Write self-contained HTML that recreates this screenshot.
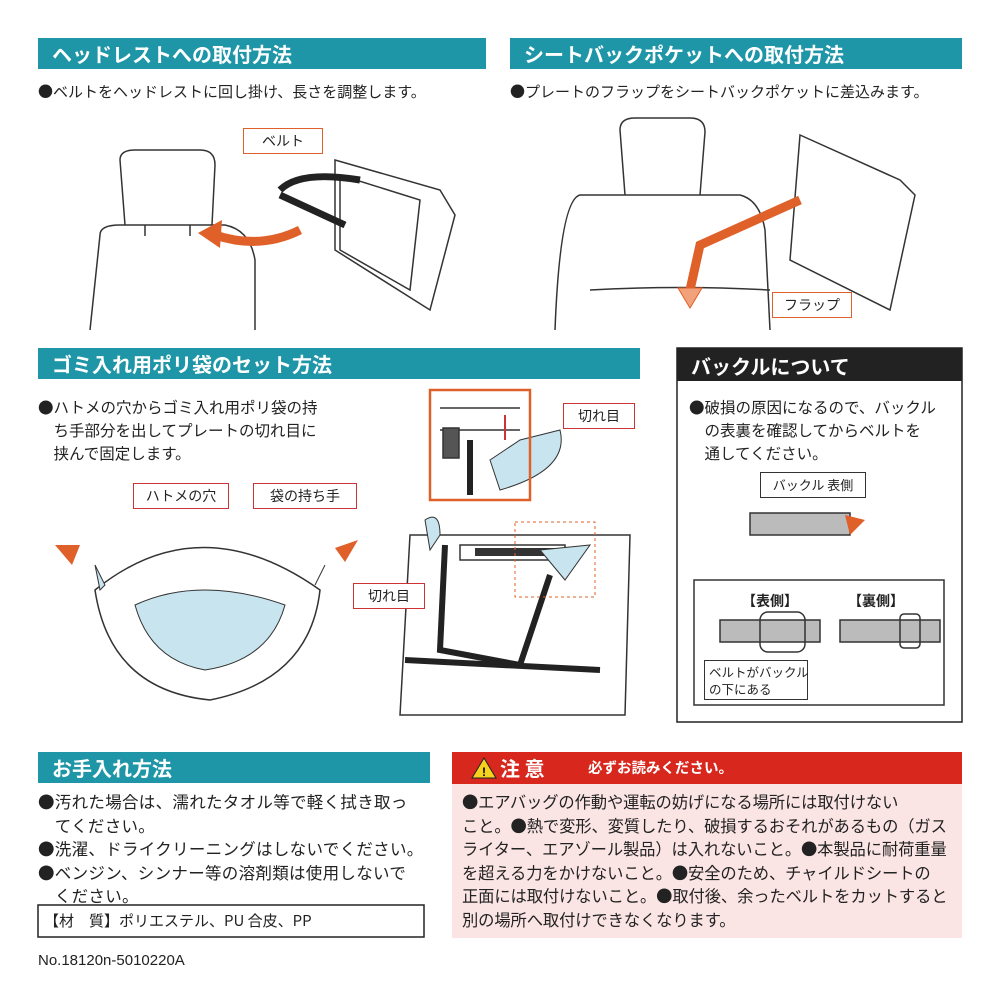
<!DOCTYPE html>
<html><head><meta charset="utf-8"><style>
*{margin:0;padding:0;box-sizing:border-box}
body{width:1000px;height:1000px;background:#fff;position:relative;font-family:"Noto Sans CJK JP","Liberation Sans",sans-serif;color:#222;overflow:hidden}
.h{position:absolute;background:#1e96a8;color:#fff;font-weight:bold;font-size:20px;line-height:31px;padding-left:14px;white-space:nowrap}
.t{position:absolute;font-size:15px;line-height:22px;white-space:nowrap}
.lbl{position:absolute;border:1.5px solid #e0602a;background:#fff;font-size:14px;line-height:24px;text-align:center}
.lblr{position:absolute;border:1.5px solid #c33;background:#fff;font-size:14px;line-height:24px;text-align:center}
svg{position:absolute;left:0;top:0}
</style></head><body>
<div class="h" style="left:38px;top:38px;width:448px">ヘッドレストへの取付方法</div>
<div class="h" style="left:510px;top:38px;width:452px">シートバックポケットへの取付方法</div>
<div class="t" style="left:38px;top:81px">●ベルトをヘッドレストに回し掛け、長さを調整します。</div>
<div class="t" style="left:510px;top:81px">●プレートのフラップをシートバックポケットに差込みます。</div>

<svg width="1000" height="1000">
<g fill="none" stroke="#333" stroke-width="1.5">
<path d="M125 225 L120 160 Q120 150 135 150 L200 150 Q215 150 215 165 L212 225"/>
<path d="M145 225 L145 236 M190 225 L190 236"/>
<path d="M90 330 L100 235 Q100 225 120 225 L225 225 Q250 230 255 260 L255 330"/>
<path d="M335 160 L440 190 L455 215 L430 310 L335 250 Z"/>
<path d="M340 175 L420 200 L410 290 L340 250 Z"/>
<path d="M625 195 L620 130 Q620 118 635 118 L690 118 Q705 118 705 132 L700 195"/>
<path d="M555 330 Q560 200 580 195 L740 195 Q760 200 765 230 L770 330"/>
<path d="M590 290 Q680 285 770 290"/>
<path d="M800 135 L900 180 L915 195 L890 310 L790 260 L800 135 Z"/>
<path d="M410 535 L630 535 L625 715 L400 715 Z"/>
<path d="M460 545 L565 545 L565 560 L460 560 Z"/>
<path d="M95 590 Q200 505 320 590 Q310 680 210 700 Q110 690 95 590 Z"/>
<rect x="694" y="580" width="250" height="125"/>
<rect x="720" y="620" width="100" height="22" fill="#bbb"/>
<rect x="840" y="620" width="100" height="22" fill="#bbb"/>
<rect x="760" y="612" width="45" height="40" rx="8"/>
<rect x="750" y="513" width="100" height="22" fill="#bbb"/>
<rect x="900" y="614" width="20" height="34" rx="4"/>
<path d="M440 408 L520 408 M440 430 L520 430"/>
<rect x="443" y="428" width="16" height="30" fill="#555"/>
</g>
<path d="M280 190 Q300 170 360 180 M280 195 L345 225" stroke="#222" stroke-width="7" fill="none"/>
<path d="M445 545 L440 650 L520 665 L550 575" stroke="#222" stroke-width="6" fill="none"/>
<path d="M405 660 L600 670" stroke="#222" stroke-width="6"/>
<path d="M470 440 L470 495" stroke="#222" stroke-width="6"/>
<rect x="475" y="548" width="80" height="8" fill="#333"/>
<path d="M300 230 Q260 250 215 235" stroke="#e0602a" stroke-width="9" fill="none"/>
<polygon points="198,233 222,220 220,248" fill="#e0602a"/>
<path d="M800 200 L700 245 L690 290" stroke="#e0602a" stroke-width="9" fill="none"/>
<polygon points="678,288 702,288 690,308" fill="#f2a27a" stroke="#e0602a"/>
<polygon points="55,545 80,545 72,565" fill="#e0602a"/>
<polygon points="358,540 335,548 345,562" fill="#e0602a"/>
<polygon points="865,520 845,515 850,535" fill="#e0602a"/>
<path d="M135 605 Q200 575 285 605 Q270 660 205 670 Q150 660 135 605 Z" fill="#c8e4ee" stroke="#333"/>
<path d="M490 460 L520 440 L560 430 Q570 470 500 490 Z" fill="#c8e4ee" stroke="#333"/>
<path d="M540 550 L590 545 L565 580 Z" fill="#c8e4ee" stroke="#333"/>
<path d="M95 565 L105 585 L100 590 Z M325 565 L315 585 Z" fill="#c8e4ee" stroke="#333"/>
<path d="M425 520 Q440 510 440 535 L430 550 Z" fill="#c8e4ee" stroke="#333"/>
<rect x="515" y="522" width="80" height="75" fill="none" stroke="#e0602a" stroke-dasharray="3,3"/>
<path d="M430 390 L530 390 L530 500 L430 500 Z" fill="none" stroke="#e0602a" stroke-width="2.5"/>
<path d="M505 415 L505 440" stroke="#c33" stroke-width="2"/>
<rect x="452" y="752" width="510" height="32" fill="#d8271d"/>
<rect x="452" y="784" width="510" height="154" fill="#fbe4e4"/>
<rect x="677" y="348" width="285" height="374" fill="none" stroke="#222" stroke-width="1.5"/>
<rect x="677" y="348" width="285" height="33" fill="#222"/>
<rect x="38" y="905" width="386" height="32" fill="none" stroke="#222" stroke-width="1.5"/>
<polygon points="472,778 484,758 496,778" fill="#f6d21f" stroke="#222"/>
<text x="484" y="776" font-size="12" font-weight="bold" text-anchor="middle" font-family="Liberation Sans">!</text>
</svg>

<div class="lbl" style="left:243px;top:128px;width:80px">ベルト</div>
<div class="lbl" style="left:772px;top:292px;width:80px">フラップ</div>
<div class="lblr" style="left:563px;top:403px;width:72px">切れ目</div>
<div class="lblr" style="left:353px;top:583px;width:72px">切れ目</div>
<div class="lblr" style="left:133px;top:483px;width:96px">ハトメの穴</div>
<div class="lblr" style="left:253px;top:483px;width:104px">袋の持ち手</div>
<div class="lbl" style="left:760px;top:472px;width:106px;border-color:#333;font-size:13px">バックル 表側</div>
<div class="t" style="left:742px;top:590px;font-weight:bold;font-size:14px">【表側】</div>
<div class="t" style="left:848px;top:590px;font-weight:bold;font-size:14px">【裏側】</div>
<div class="t" style="left:704px;top:660px;width:104px;border:1px solid #333;font-size:12.5px;line-height:17px;padding:2px 4px;background:#fff">ベルトがバックル<br>の下にある</div>

<div class="h" style="left:38px;top:348px;width:602px">ゴミ入れ用ポリ袋のセット方法</div>
<div class="t" style="left:38px;top:396px;font-size:15.5px;line-height:23px">●ハトメの穴からゴミ入れ用ポリ袋の持<br>　ち手部分を出してプレートの切れ目に<br>　挟んで固定します。</div>
<div class="t" style="left:691px;top:350px;color:#fff;font-size:20px;font-weight:bold;line-height:31px">バックルについて</div>
<div class="t" style="left:689px;top:396px;font-size:15.5px;line-height:23px">●破損の原因になるので、バックル<br>　の表裏を確認してからベルトを<br>　通してください。</div>

<div class="h" style="left:38px;top:752px;width:392px">お手入れ方法</div>
<div class="t" style="left:500px;top:753px;color:#fff;font-weight:bold;font-size:20px;line-height:30px">注 意</div>
<div class="t" style="left:588px;top:757px;color:#fff;font-weight:bold;font-size:14.5px">必ずお読みください。</div>
<div class="t" style="left:38px;top:790px;font-size:16.5px;line-height:23.5px;letter-spacing:0.3px">●汚れた場合は、濡れたタオル等で軽く拭き取っ<br>　てください。<br>●洗濯、ドライクリーニングはしないでください。<br>●ベンジン、シンナー等の溶剤類は使用しないで<br>　ください。</div>
<div class="t" style="left:44px;top:910px;font-size:15px">【材　質】ポリエステル、PU 合皮、PP</div>
<div class="t" style="left:462px;top:790px;font-size:16.3px;line-height:23.5px;letter-spacing:-0.1px">●エアバッグの作動や運転の妨げになる場所には取付けない<br>こと。●熱で変形、変質したり、破損するおそれがあるもの（ガス<br>ライター、エアゾール製品）は入れないこと。●本製品に耐荷重量<br>を超える力をかけないこと。●安全のため、チャイルドシートの<br>正面には取付けないこと。●取付後、余ったベルトをカットすると<br>別の場所へ取付けできなくなります。</div>
<div class="t" style="left:38px;top:950px;font-size:15px;font-family:'Liberation Sans',sans-serif">No.18120n-5010220A</div>
</body></html>
